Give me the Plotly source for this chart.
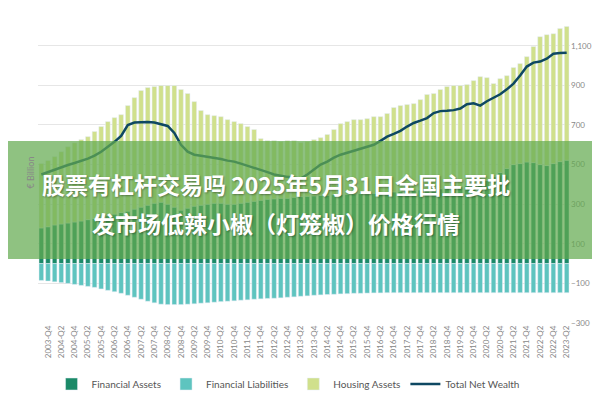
import plotly.graph_objects as go

quarters = [f"{y}-Q{q}" for y in range(2003, 2024) for q in range(1, 5)]
quarters = quarters[quarters.index("2003-Q3"):quarters.index("2023-Q2") + 1]

financial_assets = [180,186,195,200,205,210,215,222,228,235,242,250,258,265,275,285,295,305,310,300,
                    285,270,280,290,295,300,305,305,300,300,305,310,315,320,325,327,330,330,335,338,
                    340,342,345,345,348,350,350,352,355,352,355,358,360,362,365,368,370,372,370,375,
                    378,380,385,390,395,400,410,420,440,460,480,500,505,513,510,500,495,505,515,522]
total_assets = [505,520,540,565,590,610,626,641,667,692,717,737,752,798,838,874,889,894,899,899,
                899,879,859,818,773,752,747,742,727,717,707,692,677,631,621,621,616,621,621,611,
                616,626,636,652,677,707,717,727,727,732,742,742,758,788,798,803,808,828,854,859,
                879,894,899,899,904,924,944,939,909,934,949,990,1010,1045,1096,1146,1156,1161,1187,1197]
housing_assets = [t - f for t, f in zip(total_assets, financial_assets)]
financial_liabilities = [-85,-88,-92,-96,-100,-105,-110,-115,-120,-128,-135,-142,-150,-160,-170,-180,-190,-198,-205,-207,
                         -207,-207,-205,-203,-200,-198,-195,-192,-190,-188,-185,-183,-180,-178,-176,-175,-173,-170,-168,-165,
                         -163,-160,-158,-156,-155,-153,-152,-150,-150,-149,-148,-148,-147,-147,-147,-147,-147,-147,-147,-147,
                         -147,-147,-147,-147,-147,-147,-147,-147,-147,-147,-147,-147,-147,-147,-147,-147,-147,-147,-147,-147]
net_wealth = [450,462,475,488,498,508,518,530,545,565,590,615,645,700,712,715,715,712,705,695,
              660,600,565,550,545,540,535,528,520,515,505,495,485,475,462,450,443,438,433,430,
              450,475,500,515,535,550,560,570,580,590,600,620,641,655,670,692,710,722,735,760,
              770,772,775,783,805,810,798,820,838,855,880,909,950,995,1015,1020,1035,1060,1063,1065]
tick_vals = [-300, -100, 100, 300, 500, 700, 900, 1100]
title_lines = ["股票有杠杆交易吗 2025年5月31日全国主要批", "发市场低辣小椒（灯笼椒）价格行情"]

L, R, T, B = 30, 38, 15, 85
plot_h = 400 - T - B
plot_w = 600 - L - R
SHIFT = 7

def py(y):
    return (400 - B - (y - SHIFT)) / plot_h

fig = go.Figure()
fig.add_bar(x=quarters, y=financial_assets, name="Financial Assets", marker_color="#1b8a68")
fig.add_bar(x=quarters, y=financial_liabilities, name="Financial Liabilities", marker_color="#5ec4bf")
fig.add_bar(x=quarters, y=housing_assets, name="Housing Assets", marker_color="#d0e08c")
fig.add_scatter(x=quarters, y=net_wealth, name="Total Net Wealth", mode="lines",
                line=dict(color="#0e4862", width=2.5))

fig.update_layout(
    width=600, height=400, barmode="relative", bargap=0.3,
    margin=dict(l=L, r=R, t=T, b=B, autoexpand=False),
    plot_bgcolor="white", paper_bgcolor="white",
    font=dict(family="Lato, Open Sans, sans-serif", size=9, color="#777"),
    showlegend=True,
    legend=dict(orientation="h", x=0.47, xanchor="center", yref="container", y=0.06, yanchor="middle",
                font=dict(size=10, color="#555"), traceorder="normal", itemwidth=30),
    xaxis=dict(tickangle=-90, tickvals=quarters[1::2], tickfont=dict(size=8, color="#888"),
               showgrid=False, showline=False, automargin=False),
    yaxis=dict(side="right", range=[-300, 1215], tickvals=tick_vals, tickformat=",",
               gridcolor="#e6e6e6", zeroline=False, tickfont=dict(size=8, color="#888"),
               automargin=False),
    shapes=[dict(type="rect", xref="paper", yref="paper", x0=-0.1, x1=1.1,
                 y0=py(258), y1=py(140),
                 layer="above", line_width=0, fillcolor="rgba(100,170,80,0.72)")],
)
fig.add_annotation(xref="paper", yref="paper", x=-0.03, y=0.5, text="€ Billion", textangle=-90,
                   showarrow=False, font=dict(size=9, color="#888"))
for line, yc in zip(title_lines, [183, 222]):
    fig.add_annotation(xref="paper", yref="paper", x=(268 - L) / plot_w, y=py(yc),
                       xanchor="center", yanchor="middle",
                       text=line, showarrow=False,
                       font=dict(family="Noto Sans CJK SC", size=23, color="white", weight="bold",
                                 shadow="1px 1px 2px rgba(0,0,0,0.35)"))
fig.write_html("out.html")
